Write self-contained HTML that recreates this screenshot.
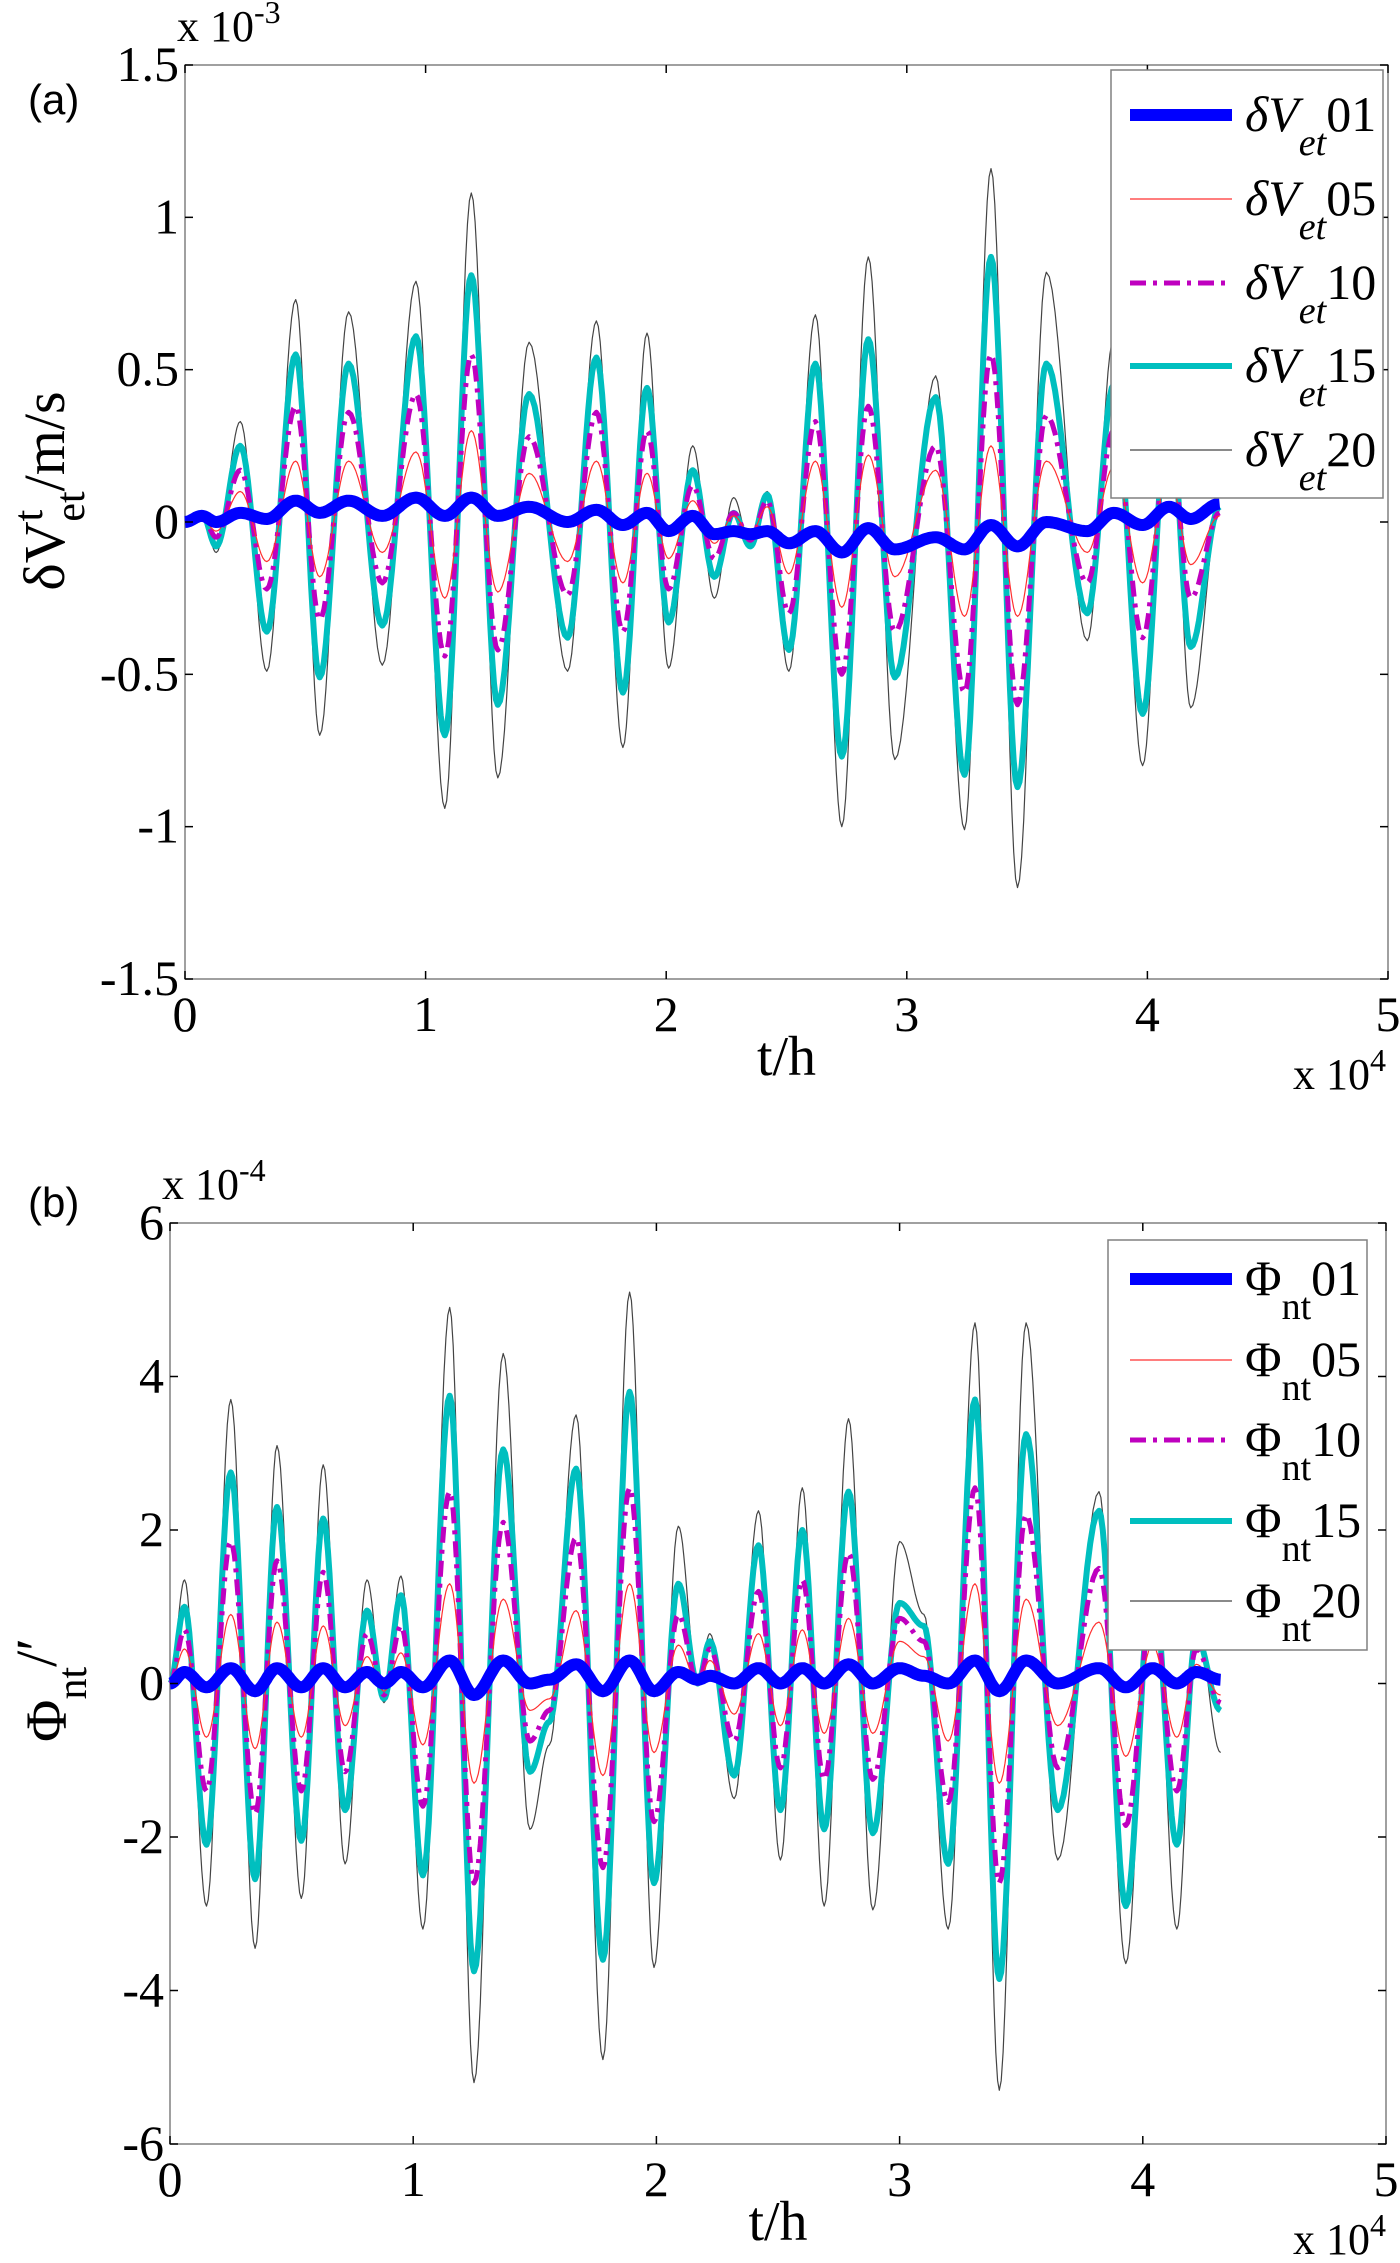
<!DOCTYPE html>
<html><head><meta charset="utf-8">
<style>
html,body{margin:0;padding:0;background:#fff;}
svg{display:block;}
</style></head>
<body>
<svg id="chart" width="1400" height="2263" viewBox="0 0 1400 2263" xmlns="http://www.w3.org/2000/svg">
<g id="panelA"></g>
<g id="panelB"></g>
</svg>
<script>
// ---------- Panel (a) data (t in 1e4 h, values in 1e-3 m/s) ----------
const aT   = [0,.07,.13,.23,.34,.46,.56,.68,.82,.96,1.08,1.19,1.30,1.43,1.59,1.71,1.82,1.92,2.01,2.11,2.20,2.28,2.35,2.42,2.51,2.62,2.73,2.84,2.95,3.12,3.24,3.35,3.46,3.58,3.75,3.86,3.98,4.09,4.18,4.30];
const a01  = [0,.02,0,.03,.01,.07,.03,.07,.02,.08,.02,.08,.02,.05,0,.04,-.01,.03,-.03,.02,-.04,-.03,-.04,-.03,-.07,-.03,-.10,-.02,-.09,-.05,-.09,-.01,-.08,0,-.03,.03,-.01,.05,.01,.06];
const a05  = [0,.01,-.03,.10,-.13,.20,-.18,.20,-.10,.23,-.25,.30,-.23,.16,-.13,.20,-.20,.16,-.12,.07,-.07,.02,-.04,.05,-.17,.20,-.28,.22,-.18,.17,-.31,.25,-.31,.20,-.10,.18,-.20,.16,-.14,.02];
const a10  = [0,.02,-.05,.17,-.22,.38,-.32,.36,-.20,.42,-.44,.55,-.42,.28,-.24,.36,-.36,.30,-.22,.12,-.12,.03,-.06,.07,-.30,.33,-.50,.38,-.36,.25,-.56,.55,-.60,.35,-.20,.30,-.38,.28,-.25,.03];
const a15  = [0,.03,-.08,.25,-.36,.55,-.51,.52,-.34,.61,-.70,.81,-.60,.42,-.38,.54,-.56,.44,-.33,.17,-.18,.03,-.08,.09,-.42,.52,-.77,.60,-.51,.41,-.83,.87,-.87,.52,-.30,.45,-.63,.40,-.41,.05];
const a20  = [0,.03,-.10,.33,-.49,.73,-.70,.69,-.47,.79,-.94,1.08,-.84,.59,-.49,.66,-.74,.62,-.48,.25,-.25,.08,-.08,.10,-.49,.68,-1.0,.87,-.78,.48,-1.01,1.16,-1.2,.82,-.39,.60,-.80,.55,-.61,.05];
const aYTicks = [-1.5,-1,-0.5,0,0.5,1,1.5];
const aYLabels = ["-1.5","-1","-0.5","0","0.5","1","1.5"];
const xTicks = [0,1,2,3,4,5];
const xLabels = ["0","1","2","3","4","5"];
const aLegend = ["01","05","10","15","20"];

// ---------- Panel (b) data (values in 1e-4) ----------
const bT   = [0,.06,.15,.25,.35,.44,.54,.63,.72,.81,.88,.95,1.04,1.15,1.25,1.37,1.48,1.56,1.67,1.78,1.89,1.99,2.09,2.17,2.22,2.32,2.42,2.51,2.60,2.69,2.79,2.89,3.00,3.10,3.20,3.31,3.41,3.52,3.65,3.82,3.93,4.04,4.14,4.22,4.32];
const b01  = [0,.15,-.05,.2,-.1,.2,-.05,.2,-.05,.15,0,.15,-.05,.3,-.15,.3,0,.05,.25,-.1,.3,-.1,.15,.05,.1,0,.2,0,.2,0,.25,0,.2,.1,0,.3,-.1,.3,0,.2,-.05,.2,0,.15,.05];
const b05  = [0,.45,-.7,.9,-.85,.8,-.7,.75,-.55,.35,-.1,.4,-.8,1.3,-1.3,1.1,-.35,-.2,.95,-1.2,1.3,-.9,.5,0,.3,-.4,.65,-.55,.7,-.65,.85,-.65,.55,.35,-.75,1.3,-1.3,1.1,-.55,.8,-.95,.5,-.7,.25,-.15];
const b10  = [0,.7,-1.4,1.85,-1.7,1.6,-1.4,1.45,-1.15,.65,-.15,.75,-1.6,2.5,-2.6,2.1,-.75,-.35,1.9,-2.4,2.55,-1.8,.9,0,.45,-.75,1.2,-1.1,1.35,-1.25,1.7,-1.25,.85,.55,-1.55,2.55,-2.6,2.2,-1.1,1.5,-1.85,1.0,-1.4,.45,-.25];
const b15  = [0,1.0,-2.1,2.75,-2.55,2.3,-2.05,2.15,-1.65,.95,-.2,1.15,-2.5,3.75,-3.75,3.05,-1.15,-.5,2.8,-3.6,3.8,-2.6,1.3,0,.55,-1.2,1.8,-1.65,2.0,-1.9,2.5,-1.95,1.05,.75,-2.35,3.7,-3.85,3.25,-1.65,2.25,-2.9,1.4,-2.1,.6,-.35];
const b20  = [0,1.35,-2.9,3.7,-3.45,3.1,-2.8,2.85,-2.35,1.35,-.25,1.4,-3.2,4.9,-5.2,4.3,-1.9,-.8,3.5,-4.9,5.1,-3.7,2.05,0,.65,-1.5,2.25,-2.3,2.55,-2.9,3.45,-2.95,1.85,.9,-3.2,4.7,-5.3,4.7,-2.3,2.5,-3.65,1.9,-3.2,.8,-.9];
const bYTicks = [-6,-4,-2,0,2,4,6];
const bYLabels = ["-6","-4","-2","0","2","4","6"];
const bLegend = ["01","05","10","15","20"];

const NS = "http://www.w3.org/2000/svg";
const SERIF = '"Liberation Serif", "DejaVu Serif", serif';
const styles = [
  {c:"#0000ff", w:12, d:null},
  {c:"#ff3030", w:1.2, d:null},
  {c:"#bf00bf", w:5, d:"16 7 4 7"},
  {c:"#00bfbf", w:6, d:null},
  {c:"#444444", w:1.2, d:null}
];
function mk(tag, parent, attrs){
  const e = document.createElementNS(NS, tag);
  for (const k in attrs) e.setAttribute(k, attrs[k]);
  parent.appendChild(e);
  return e;
}
function panel(g, box, yMin, yMax, yTicks, yLabels, T, series, names, lbox, legY, symbol, sub, exp){
  const sx = t => box.l + (t/5)*(box.r-box.l);
  const sy = v => box.b - (v-yMin)/(yMax-yMin)*(box.b-box.t);
  const fr = mk('rect', g, {x:box.l, y:box.t, width:box.r-box.l, height:box.b-box.t, fill:'none', stroke:'#808080', 'stroke-width':1.5});
  
  
  const order = [4,3,2,1,0];
  order.forEach(si=>{
    const vals = series[si];
    let d = "";
    for (let i=0;i<T.length-1;i++){
      const N = 14;
      for (let k=0;k<=N;k++){
        if (i>0 && k===0) continue;
        const f = k/N, s = (1-Math.cos(Math.PI*f))/2;
        const t = T[i]+(T[i+1]-T[i])*f;
        const v = vals[i]+(vals[i+1]-vals[i])*s;
        d += (d?"L":"M")+sx(t).toFixed(1)+","+sy(v).toFixed(1);
      }
    }
    const p = mk('path', g, {d:d, fill:'none', stroke:styles[si].c, 'stroke-width':styles[si].w, 'stroke-linejoin':'round'});
    if (styles[si].d) p.setAttribute('stroke-dasharray', styles[si].d);
    
    
  });
  yTicks.forEach((v,i)=>{
    const y = sy(v);
    mk('line', g, {x1:box.l, x2:box.l+8, y1:y, y2:y, stroke:'#000', 'stroke-width':1.5});
    mk('line', g, {x1:box.r, x2:box.r-8, y1:y, y2:y, stroke:'#000', 'stroke-width':1.5});
    const tx = mk('text', g, {x:box.l-6, y:y+16, 'text-anchor':'end', 'font-family':SERIF, 'font-size':50});
    tx.textContent = yLabels[i];
    
    
  });
  xTicks.forEach((v,i)=>{
    const x = sx(v);
    mk('line', g, {x1:x, x2:x, y1:box.b, y2:box.b-8, stroke:'#000', 'stroke-width':1.5});
    mk('line', g, {x1:x, x2:x, y1:box.t, y2:box.t+8, stroke:'#000', 'stroke-width':1.5});
    const tx = mk('text', g, {x:x, y:box.b+52, 'text-anchor':'middle', 'font-family':SERIF, 'font-size':50});
    tx.textContent = xLabels[i];
    
    
  });
  const lg = mk('g', g, {});
  
  
  mk('rect', lg, {x:lbox.x, y:lbox.y, width:lbox.w, height:lbox.h, fill:'#fff', stroke:'#808080', 'stroke-width':1.5});
  names.forEach((n,i)=>{
    const y = legY[i];
    const ln = mk('line', lg, {x1:1130, x2:1232, y1:y, y2:y, stroke:styles[i].c, 'stroke-width':styles[i].w});
    if (styles[i].d) ln.setAttribute('stroke-dasharray', styles[i].d);
    
    
    const tx = mk('text', lg, {x:1245, y:y+16, 'font-family':SERIF, 'font-size':50});
    
    
    const a = mk('tspan', tx, {'font-style': symbol.italic?'italic':'normal'}); a.textContent = symbol.text;
    const b = mk('tspan', tx, {'font-size':38, dy:24, 'font-style': symbol.italic?'italic':'normal'}); b.textContent = sub;
    const c = mk('tspan', tx, {dy:-24}); c.textContent = n;
  });
  const ex = mk('text', g, {x:box.l-8, y:box.t-24, 'font-family':SERIF, 'font-size':44});
  
  
  const e1 = mk('tspan', ex, {}); e1.textContent = "x 10";
  const e2 = mk('tspan', ex, {dy:-18, 'font-size':32}); e2.textContent = exp;
  const xe = mk('text', g, {x:1293, y:box.b+110, 'font-family':SERIF, 'font-size':44});
  
  
  const x1 = mk('tspan', xe, {}); x1.textContent = "x 10";
  const x2 = mk('tspan', xe, {dy:-18, 'font-size':32}); x2.textContent = "4";
  const xt = mk('text', g, {x:(box.l+box.r)/2, y:box.b+96, 'text-anchor':'middle', 'font-family':SERIF, 'font-size':56});
  xt.textContent = "t/h";
  
  
}

const gA = document.getElementById('panelA');
panel(gA, {l:185, r:1388, t:65, b:979}, -1.5, 1.5, aYTicks, aYLabels, aT, [a01,a05,a10,a15,a20], aLegend,
  {x:1111,y:70,w:272,h:428}, [115,199,283,366,450], {text:"δV", italic:true}, "et", "-3");
const gB = document.getElementById('panelB');
panel(gB, {l:170, r:1386, t:1223, b:2144}, -6, 6, bYTicks, bYLabels, bT, [b01,b05,b10,b15,b20], bLegend,
  {x:1108,y:1240,w:259,h:410}, [1279,1360,1440,1521,1601], {text:"Φ", italic:false}, "nt", "-4");

function txt(parent, x, y, s, attrs, name){
  const t = mk('text', parent, attrs); t.setAttribute('x',x); t.setAttribute('y',y); t.textContent = s;
  
  
  return t;
}
txt(gA, 28, 114, "(a)", {'font-family':'"Liberation Sans",sans-serif','font-size':42}, 'panel-label-a');
txt(gB, 28, 1217, "(b)", {'font-family':'"Liberation Sans",sans-serif','font-size':42}, 'panel-label-b');
const ya = mk('text', gA, {transform:'translate(64,491) rotate(-90)', 'text-anchor':'middle', 'font-family':SERIF, 'font-size':58});


let s1 = mk('tspan', ya, {}); s1.textContent = "δV";
let s2 = mk('tspan', ya, {dy:-22, 'font-size':42}); s2.textContent = "t";
let s3 = mk('tspan', ya, {dy:42, dx:-12, 'font-size':42}); s3.textContent = "et";
let s4 = mk('tspan', ya, {dy:-20}); s4.textContent = "/m/s";
const yb = mk('text', gB, {transform:'translate(66,1690) rotate(-90)', 'text-anchor':'middle', 'font-family':SERIF, 'font-size':58});


let r1 = mk('tspan', yb, {}); r1.textContent = "Φ";
let r2 = mk('tspan', yb, {dy:20, 'font-size':42}); r2.textContent = "nt";
let r3 = mk('tspan', yb, {dy:-30}); r3.textContent = "/′";
</script>
</body></html>
